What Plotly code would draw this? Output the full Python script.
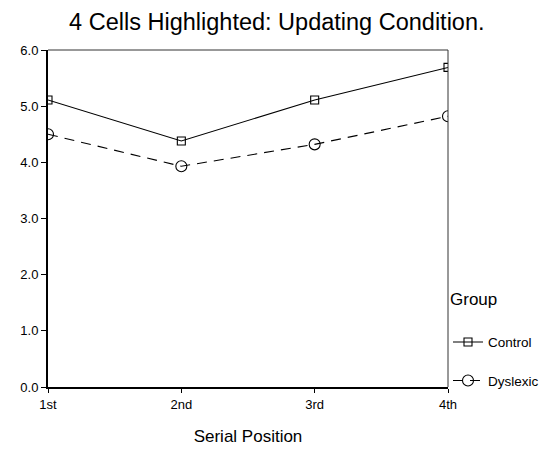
import plotly.graph_objects as go

positions = ["1st", "2nd", "3rd", "4th"]
control = [5.11, 4.38, 5.11, 5.69]
dyslexic = [4.50, 3.93, 4.32, 4.82]
yticks = [0, 1, 2, 3, 4, 5, 6]
ytick_labels = ["0.0", "1.0", "2.0", "3.0", "4.0", "5.0", "6.0"]

xpos = list(range(1, len(positions) + 1))

fig = go.Figure()
fig.add_trace(go.Scatter(
    x=xpos, y=control, name="Control", mode="lines+markers", legendgroup="c",
    line=dict(color="black", width=1.1, dash="solid"),
    marker=dict(symbol="square-open", size=8, color="black", line=dict(width=1.1)),
))
fig.add_trace(go.Scatter(
    x=xpos, y=dyslexic, name="Dyslexic", mode="lines+markers", legendgroup="d",
    line=dict(color="black", width=1.1, dash="10px,7px"),
    marker=dict(symbol="circle-open", size=11, color="black", line=dict(width=1.1)),
))

# thin top/right frame lines (axes themselves are thicker)
fig.add_shape(type="line", xref="paper", yref="paper", x0=0, x1=1, y0=1, y1=1,
              line=dict(color="#333333", width=1))
fig.add_shape(type="line", xref="paper", yref="paper", x0=1, x1=1, y0=0, y1=1,
              line=dict(color="#333333", width=1))

fig.update_layout(
    width=552, height=457,
    margin=dict(l=35, r=112, t=42, b=78),
    paper_bgcolor="white", plot_bgcolor="white",
    font=dict(family="Liberation Sans, Arial, sans-serif", color="black", size=13),
    title=dict(text="4 Cells Highlighted: Updating Condition.", x=0.487, xanchor="center",
               y=0.969, yanchor="middle", font=dict(size=23.5, color="black")),
    showlegend=True,
    legend=dict(title=dict(text="Group<br><span style='font-size:10px'> </span>", font=dict(size=17)),
                x=1.0, xanchor="left",
                y=0.31, yanchor="top", font=dict(size=13.5), bgcolor="rgba(0,0,0,0)",
                itemwidth=30, tracegroupgap=18),
    xaxis=dict(range=[1, 4], tickvals=xpos, ticktext=positions, showgrid=False,
               zeroline=False, showline=True, linecolor="black", linewidth=2,
               ticks="outside", ticklen=4, tickcolor="black", tickfont=dict(size=13),
               title=dict(text="Serial Position", standoff=20, font=dict(size=17))),
    yaxis=dict(range=[0, 6], tickvals=yticks, ticktext=ytick_labels, showgrid=False,
               zeroline=False, showline=True, linecolor="black", linewidth=2,
               ticks="outside", ticklen=5, tickcolor="black", tickfont=dict(size=13)),
)

fig.write_html("out.html")
